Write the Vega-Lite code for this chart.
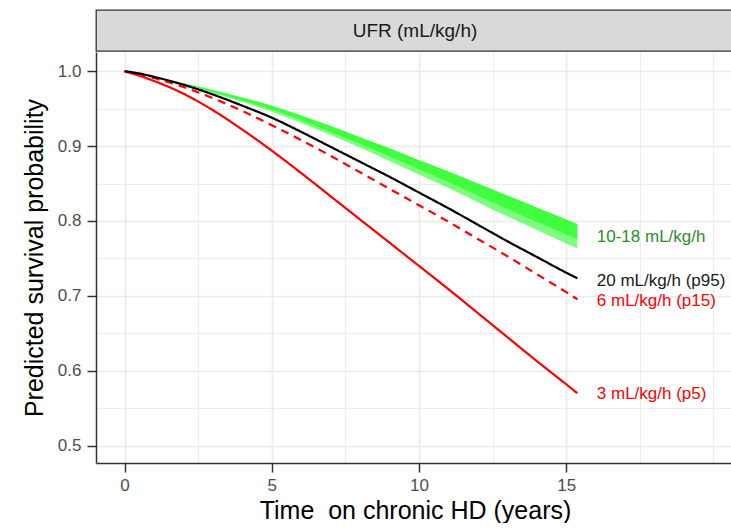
{
  "$schema": "https://vega.github.io/schema/vega-lite/v6.json",
  "padding": {"left": 22, "top": 9, "right": 0, "bottom": 0},
  "spacing": 0,
  "config": {
    "font": "Liberation Sans",
    "view": {"stroke": null},
    "concat": {"spacing": 0}
  },
  "datasets": {
    "band": [
      {"t": 0, "y": 1.0, "mid": 1.0, "lo": 1.0},
      {"t": 0.5, "y": 0.998, "mid": 0.998, "lo": 0.998},
      {"t": 1, "y": 0.993, "mid": 0.992, "lo": 0.992},
      {"t": 2, "y": 0.984, "mid": 0.983, "lo": 0.982},
      {"t": 3, "y": 0.975, "mid": 0.972, "lo": 0.971},
      {"t": 4, "y": 0.965, "mid": 0.961, "lo": 0.959},
      {"t": 5, "y": 0.954, "mid": 0.949, "lo": 0.946},
      {"t": 6, "y": 0.941, "mid": 0.935, "lo": 0.931},
      {"t": 7, "y": 0.927, "mid": 0.919, "lo": 0.915},
      {"t": 8, "y": 0.912, "mid": 0.903, "lo": 0.898},
      {"t": 9, "y": 0.897, "mid": 0.886, "lo": 0.880},
      {"t": 10, "y": 0.881, "mid": 0.869, "lo": 0.862},
      {"t": 11, "y": 0.866, "mid": 0.852, "lo": 0.844},
      {"t": 12, "y": 0.850, "mid": 0.834, "lo": 0.825},
      {"t": 13, "y": 0.834, "mid": 0.816, "lo": 0.806},
      {"t": 14, "y": 0.818, "mid": 0.799, "lo": 0.788},
      {"t": 15, "y": 0.802, "mid": 0.782, "lo": 0.770},
      {"t": 15.38, "y": 0.796, "mid": 0.776, "lo": 0.763}
    ],
    "lines": [
      {"s": "3", "t": 0, "y": 1.0},
      {"s": "3", "t": 0.5, "y": 0.994},
      {"s": "3", "t": 1, "y": 0.987},
      {"s": "3", "t": 2, "y": 0.970},
      {"s": "3", "t": 3, "y": 0.948},
      {"s": "3", "t": 4, "y": 0.922},
      {"s": "3", "t": 5, "y": 0.894},
      {"s": "3", "t": 6, "y": 0.864},
      {"s": "3", "t": 7, "y": 0.833},
      {"s": "3", "t": 8, "y": 0.802},
      {"s": "3", "t": 9, "y": 0.771},
      {"s": "3", "t": 10, "y": 0.740},
      {"s": "3", "t": 11, "y": 0.709},
      {"s": "3", "t": 12, "y": 0.677},
      {"s": "3", "t": 13, "y": 0.645},
      {"s": "3", "t": 14, "y": 0.613},
      {"s": "3", "t": 15, "y": 0.582},
      {"s": "3", "t": 15.38, "y": 0.570},
      {"s": "6", "t": 0, "y": 1.0},
      {"s": "6", "t": 0.5, "y": 0.9965},
      {"s": "6", "t": 1, "y": 0.991},
      {"s": "6", "t": 2, "y": 0.979},
      {"s": "6", "t": 3, "y": 0.964},
      {"s": "6", "t": 4, "y": 0.947},
      {"s": "6", "t": 5, "y": 0.928},
      {"s": "6", "t": 6, "y": 0.908},
      {"s": "6", "t": 7, "y": 0.887},
      {"s": "6", "t": 8, "y": 0.865},
      {"s": "6", "t": 9, "y": 0.843},
      {"s": "6", "t": 10, "y": 0.821},
      {"s": "6", "t": 11, "y": 0.799},
      {"s": "6", "t": 12, "y": 0.776},
      {"s": "6", "t": 13, "y": 0.753},
      {"s": "6", "t": 14, "y": 0.729},
      {"s": "6", "t": 15, "y": 0.705},
      {"s": "6", "t": 15.38, "y": 0.6955},
      {"s": "20", "t": 0, "y": 1.0},
      {"s": "20", "t": 0.5, "y": 0.997},
      {"s": "20", "t": 1, "y": 0.9925},
      {"s": "20", "t": 2, "y": 0.982},
      {"s": "20", "t": 3, "y": 0.969},
      {"s": "20", "t": 4, "y": 0.954},
      {"s": "20", "t": 5, "y": 0.938},
      {"s": "20", "t": 6, "y": 0.919},
      {"s": "20", "t": 7, "y": 0.899},
      {"s": "20", "t": 8, "y": 0.879},
      {"s": "20", "t": 9, "y": 0.859},
      {"s": "20", "t": 10, "y": 0.838},
      {"s": "20", "t": 11, "y": 0.817},
      {"s": "20", "t": 12, "y": 0.795},
      {"s": "20", "t": 13, "y": 0.773},
      {"s": "20", "t": 14, "y": 0.752},
      {"s": "20", "t": 15, "y": 0.731},
      {"s": "20", "t": 15.38, "y": 0.7235}
    ],
    "labels": [
      {"t": 16.04, "y": 0.779, "label": "10-18 mL/kg/h"},
      {"t": 16.04, "y": 0.720, "label": "20 mL/kg/h (p95)"},
      {"t": 16.04, "y": 0.693, "label": "6 mL/kg/h (p15)"},
      {"t": 16.04, "y": 0.569, "label": "3 mL/kg/h (p5)"}
    ],
    "strip": [{"label": "UFR (mL/kg/h)"}]
  },
  "vconcat": [
    {
      "width": 638,
      "height": 41,
      "view": {"fill": "#D9D9D9", "stroke": "#333333", "strokeWidth": 1.3},
      "data": {"name": "strip"},
      "mark": {"type": "text", "fontSize": 19, "color": "#1A1A1A", "baseline": "middle", "align": "center"},
      "encoding": {"text": {"field": "label"}}
    },
    {
      "width": 638,
      "height": 411,
      "resolve": {"scale": {"color": "independent"}},
      "encoding": {
        "x": {
          "field": "t", "type": "quantitative",
          "scale": {"domain": [-0.97, 20.7], "nice": false, "zero": false},
          "title": "Time \u00a0on chronic HD (years)",
          "axis": {
            "values": [0, 2.5, 5, 7.5, 10, 12.5, 15, 17.5, 20],
            "labelExpr": "(datum.value % 5 === 0 && datum.value < 20) ? datum.label : ''",
            "labelFlush": false,
            "labelOverlap": false,
            "grid": true,
            "gridColor": "#EBEBEB",
            "gridWidth": {"condition": {"test": "datum.value % 5 !== 0 || datum.value >= 20", "value": 0.9}, "value": 1.7},
            "tickColor": "#333333",
            "tickWidth": 1.5,
            "tickSize": 9,
            "tickOpacity": {"condition": {"test": "datum.value % 5 !== 0 || datum.value >= 20", "value": 0}, "value": 1},
            "domainColor": "#333333",
            "domainWidth": 1.5,
            "labelColor": "#4D4D4D",
            "labelFontSize": 17,
            "labelPadding": 5,
            "titleFontSize": 25,
            "titleColor": "#000000",
            "titleFontWeight": "normal",
            "titlePadding": 5
          }
        },
        "y": {
          "field": "y", "type": "quantitative",
          "scale": {"domain": [0.4768, 1.0257], "nice": false, "zero": false},
          "title": "Predicted survival probability",
          "axis": {
            "values": [0.5, 0.55, 0.6, 0.65, 0.7, 0.75, 0.8, 0.85, 0.9, 0.95, 1.0],
            "format": ".1f",
            "labelExpr": "round(datum.value * 100) % 10 === 0 ? datum.label : ''",
            "labelOverlap": false,
            "grid": true,
            "gridColor": "#EBEBEB",
            "gridWidth": {"condition": {"test": "round(datum.value * 100) % 10 !== 0", "value": 0.9}, "value": 1.7},
            "tickColor": "#333333",
            "tickWidth": 1.5,
            "tickSize": 9,
            "tickOpacity": {"condition": {"test": "round(datum.value * 100) % 10 !== 0", "value": 0}, "value": 1},
            "domainColor": "#333333",
            "domainWidth": 1.5,
            "labelColor": "#4D4D4D",
            "labelFontSize": 17,
            "labelPadding": 6,
            "titleFontSize": 25,
            "titleColor": "#000000",
            "titleFontWeight": "normal",
            "titlePadding": 10
          }
        }
      },
      "layer": [
        {
          "data": {"name": "band"},
          "mark": {"type": "area", "color": "#00FF00", "opacity": 0.5, "interpolate": "monotone"},
          "encoding": {"y2": {"field": "lo"}}
        },
        {
          "data": {"name": "band"},
          "mark": {"type": "area", "color": "#00FF00", "opacity": 0.5, "interpolate": "monotone"},
          "encoding": {"y2": {"field": "mid"}}
        },
        {
          "data": {"name": "lines"},
          "mark": {"type": "line", "strokeWidth": 2.2, "interpolate": "monotone"},
          "encoding": {
            "detail": {"field": "s"},
            "color": {"field": "s", "type": "nominal", "scale": {"domain": ["3", "6", "20"], "range": ["#FF0000", "#FF0000", "#000000"]}, "legend": null},
            "strokeDash": {"field": "s", "type": "nominal", "scale": {"domain": ["3", "6", "20"], "range": [[1, 0], [8, 6], [1, 0]]}, "legend": null}
          }
        },
        {
          "data": {"name": "labels"},
          "mark": {"type": "text", "align": "left", "baseline": "middle", "fontSize": 17},
          "encoding": {
            "text": {"field": "label"},
            "color": {
              "field": "label", "type": "nominal",
              "scale": {"domain": ["10-18 mL/kg/h", "20 mL/kg/h (p95)", "6 mL/kg/h (p15)", "3 mL/kg/h (p5)"], "range": ["#2E8B2E", "#1A1A1A", "#FF0000", "#FF0000"]},
              "legend": null
            }
          }
        }
      ]
    }
  ]
}
